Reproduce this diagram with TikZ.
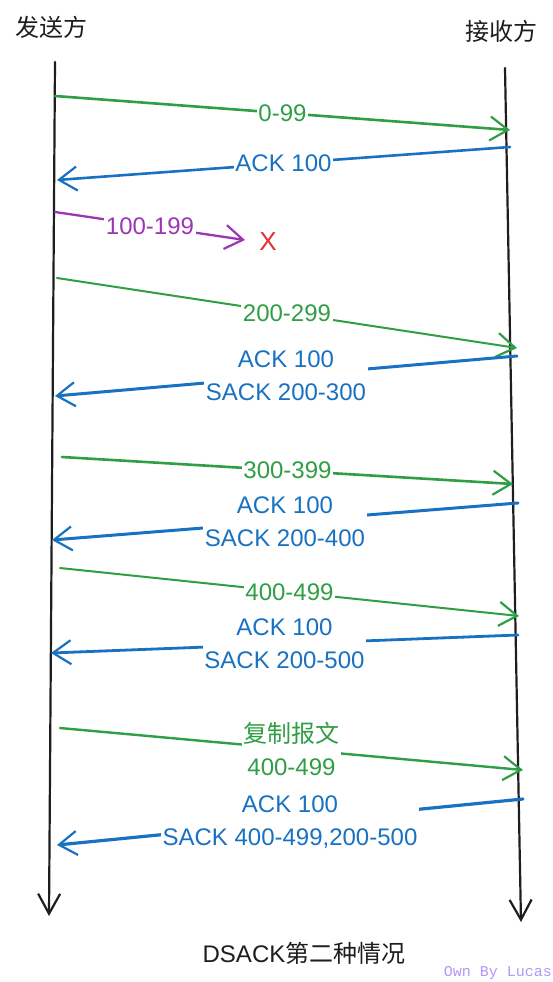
\documentclass[tikz,border=0pt]{standalone}
\usepackage{fontspec}
\setmainfont{Liberation Sans}
\newfontfamily\cjk{Noto Sans CJK SC}
\newfontfamily\monof{Liberation Mono}
\usetikzlibrary{arrows.meta}
\definecolor{exgreen}{HTML}{2F9E44}
\definecolor{exblue}{HTML}{1971C2}
\definecolor{expurple}{HTML}{9C36B5}
\definecolor{exred}{HTML}{E03131}
\definecolor{exlav}{HTML}{B197FC}
\definecolor{exink}{HTML}{1E1E1E}
\begin{document}
\begin{tikzpicture}[x=1pt,y=-1pt,
  life/.style={draw=exink,line width=2.2pt,line cap=round,-{Straight Barb[length=20pt,width=22pt,line width=2.2pt]}},
  msg/.style={line width=2.6pt,line cap=round,-{Straight Barb[length=18pt,width=24pt,line width=2.2pt]}},
  lbl/.style={fill=white,inner sep=1.5pt,align=center,font=\fontsize{24}{33}\selectfont},
  head/.style={font=\cjk\fontsize{24}{28}\selectfont,text=exink}]
\useasboundingbox[fill=white] (0,0) rectangle (552,982);

% headers
\node[head] (snd) at (51,27) {发送方};
\node[head] (rcv) at (501,31) {接收方};

% lifelines
\coordinate (L0) at (55,62);  \coordinate (L1) at (49,916);
\coordinate (R0) at (505,68); \coordinate (R1) at (521,922);
\draw[life] (L0) -- (L1);
\draw[life] (R0) -- (R1);

% 1: 0-99
\coordinate (a1) at (55,96);  \coordinate (b1) at (510,130);
\draw[msg,exgreen] (a1) -- node[lbl,text=exgreen] (t1) {0-99} (b1);
% 2: ACK 100
\coordinate (a2) at (510,147); \coordinate (b2) at (57,180);
\draw[msg,exblue] (a2) -- node[lbl,text=exblue] (t2) {ACK 100} (b2);
% 3: 100-199 lost
\coordinate (a3) at (55,212); \coordinate (b3) at (245,240);
\draw[msg,expurple,line width=2.3pt] (a3) -- node[lbl,text=expurple] (t3) {100-199} (b3);
\node[text=exred,font=\fontsize{26}{30}\selectfont] (lost) at (268,242) {X};
% 4: 200-299
\coordinate (a4) at (57,278); \coordinate (b4) at (517,348);
\draw[msg,exgreen,line width=2pt] (a4) -- node[lbl,text=exgreen] (t4) {200-299} (b4);
% 5: ACK 100 / SACK 200-300
\coordinate (a5) at (517,356); \coordinate (b5) at (55,396);
\draw[msg,exblue,line width=3pt] (a5) -- node[lbl,text=exblue] (t5) {ACK 100\\SACK 200-300} (b5);
% 6: 300-399
\coordinate (a6) at (62,457); \coordinate (b6) at (513,484);
\draw[msg,exgreen] (a6) -- node[lbl,text=exgreen] (t6) {300-399} (b6);
% 7: ACK 100 / SACK 200-400
\coordinate (a7) at (518,503); \coordinate (b7) at (52,540);
\draw[msg,exblue,line width=3pt] (a7) -- node[lbl,text=exblue] (t7) {ACK 100\\SACK 200-400} (b7);
% 8: 400-499
\coordinate (a8) at (60,568); \coordinate (b8) at (519,616);
\draw[msg,exgreen,line width=2pt] (a8) -- node[lbl,text=exgreen] (t8) {400-499} (b8);
% 9: ACK 100 / SACK 200-500
\coordinate (a9) at (518,635); \coordinate (b9) at (51,653);
\draw[msg,exblue,line width=2.8pt] (a9) -- node[lbl,text=exblue] (t9) {ACK 100\\SACK 200-500} (b9);
% 10: duplicate 400-499
\coordinate (a10) at (60,728); \coordinate (b10) at (523,770);
\draw[msg,exgreen,line width=2.4pt] (a10) -- node[lbl,text=exgreen] (t10) {{\cjk 复制报文}\\400-499} (b10);
% 11: ACK 100 / SACK 400-499,200-500
\coordinate (a11) at (523,799); \coordinate (b11) at (57,845);
\draw[msg,exblue,line width=3.2pt] (a11) -- node[lbl,text=exblue] (t11) {ACK 100\\SACK 400-499,200-500} (b11);

% footer
\node[font=\fontsize{24}{28}\selectfont,text=exink] (title) at (304,953) {DSACK{\cjk 第二种情况}};
\node[font=\monof\fontsize{15}{17}\selectfont,text=exlav,anchor=east,inner sep=0pt] (own) at (552,973) {Own By Lucas};
\end{tikzpicture}
\end{document}
